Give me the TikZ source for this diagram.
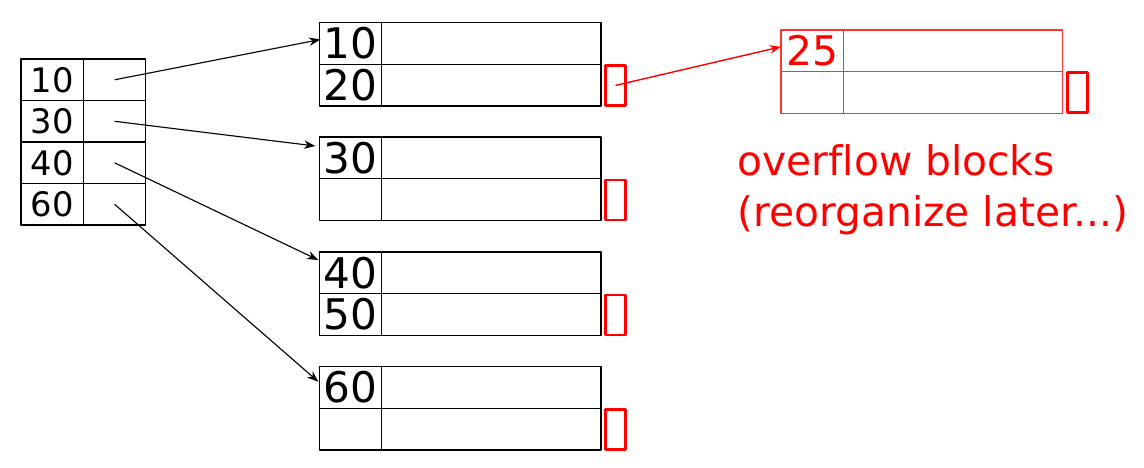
\documentclass[tikz,border=0pt]{standalone}
\usepackage{fontspec}
\setmainfont{DejaVu Sans}[Ligatures={NoCommon}]
\usetikzlibrary{arrows.meta}
\begin{document}
\begin{tikzpicture}[x=0.025cm, y=-0.025cm, line join=round, >=Stealth]
			\tikzset{cell/.style={draw, rectangle, inner sep=0pt, outer sep=0pt, minimum height=1.04cm, line width=0.9pt, anchor=north west},
				keycell/.style={cell, minimum width=1.56cm},
				reccell/.style={cell, minimum width=5.48cm},
				ptrbox/.style={draw=red, rectangle, line width=1.6pt, inner sep=0pt, minimum width=0.5cm, minimum height=1.0cm},
				link/.style={-{Stealth[length=8pt,width=6pt]}, line width=0.8pt},
				idxfont/.style={font=\fontsize{24pt}{28pt}\selectfont},
				blkfont/.style={font=\fontsize{30pt}{36pt}\selectfont}}
			\useasboundingbox (0,0) rectangle (1144,467);
			% index block
			\foreach \k [count=\i from 0] in {10,30,40,60}{
				\node[keycell, idxfont] (ik\i) at (21,59+41.5*\i) {\k};
				\node[keycell] (ip\i) at (ik\i.north east) {};
			}
			% data blocks
			\foreach \top/\a/\b [count=\j] in {22.7/10/20, 137/30/, 252/40/50, 366.7/60/}{
				\node[keycell, blkfont] (b\j-k0) at (319.3,\top) {\a};
				\node[reccell] (b\j-r0) at (b\j-k0.north east) {};
				\node[keycell, blkfont] (b\j-k1) at (b\j-k0.south west) {\b};
				\node[reccell] (b\j-r1) at (b\j-k1.north east) {};
				\node[ptrbox] (b\j-p) at (615.5,\top+62.7) {};
			}
			% overflow block
			\node[keycell, draw=red!80, line width=0.8pt, text=red, font=\fontsize{29pt}{35pt}\selectfont] (ok0) at (781,30) {25};
			\node[reccell, draw=red!80, line width=0.8pt] (or0) at (ok0.north east) {};
			\node[keycell, draw=red!80, line width=0.8pt] (ok1) at (ok0.south west) {};
			\node[reccell, draw=red!80, line width=0.8pt] (or1) at (ok1.north east) {};
			\node[ptrbox] (op) at (1077.5,92.5) {};
			\node[anchor=base west, text=red, font=\fontsize{29pt}{35pt}\selectfont] (ovl1) at (732.5,175) {overflow blocks};
			\node[anchor=base west, text=red, font=\fontsize{29pt}{35pt}\selectfont] (ovl2) at (732.5,226.7) {(reorganize later...)};
			% pointers
			\draw[link] (ip0.center) -- ([shift={(1,-4)}]b1-k0.west);
			\draw[link] (ip1.center) -- ([shift={(-4,9)}]b2-k0.north west);
			\draw[link] (ip2.center) -- ([shift={(-1,8)}]b3-k0.north west);
			\draw[link] (ip3.center) -- ([shift={(-1,15)}]b4-k0.north west);
			\draw[link, red, line width=1pt] (b1-p.center) -- ([shift={(0,-4)}]ok0.west);
		\end{tikzpicture}
\end{document}
